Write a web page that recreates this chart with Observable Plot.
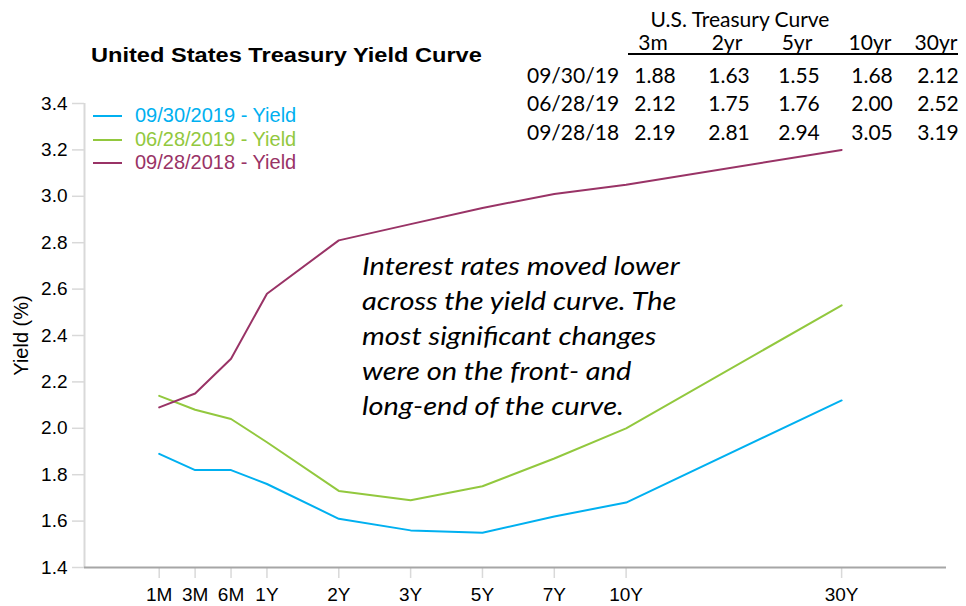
<!DOCTYPE html>
<html>
<head>
<meta charset="utf-8">
<script src="https://cdn.jsdelivr.net/npm/d3@7"></script>
<script src="https://cdn.jsdelivr.net/npm/@observablehq/plot@0.6"></script>
<style>
  html, body { margin: 0; padding: 0; background: #fff; }
  #wrap { position: relative; width: 966px; height: 606px; overflow: hidden; font-family: "Liberation Sans", Arial, sans-serif; }
  #chart { position: absolute; left: 0; top: 0; }
  .abs { position: absolute; white-space: nowrap; }
  #title { left: 91px; top: 41px; font-weight: bold; font-size: 20px; line-height: 28px; transform-origin: left center; transform: scaleX(1.18); color: #000; }
  .tbl { font-family: Lato, "Open Sans", sans-serif; font-size: 21px; color: #000; line-height: 1; }
  .leg { font-size: 20px; line-height: 1; }
  #note { left: 362px; top: 248px; font-family: Lato, "Open Sans", sans-serif; font-style: italic; font-size: 25px; line-height: 35px; color: #000; transform-origin: left top; transform: scaleX(1.16); }
  #hdr { position: absolute; left: 628px; top: 31px; width: 330px; height: 22px; border-bottom: 2px solid #000; }
</style>
</head>
<body>
<div id="wrap">
  <div id="chart"></div>
  <div id="hdr"></div>
</div>
<script>
// ---- data ----
const maturities = ["1M", "3M", "6M", "1Y", "2Y", "3Y", "5Y", "7Y", "10Y", "30Y"];
const maturityIndex = [0, 0.5, 1, 1.5, 2.5, 3.5, 4.5, 5.5, 6.5, 9.5];
const seriesNames = ["09/30/2019 - Yield", "06/28/2019 - Yield", "09/28/2018 - Yield"];
const yield20190930 = [1.89, 1.82, 1.82, 1.76, 1.61, 1.56, 1.55, 1.62, 1.68, 2.12];
const yield20190628 = [2.14, 2.08, 2.04, 1.94, 1.73, 1.69, 1.75, 1.87, 2.00, 2.53];
const yield20180928 = [2.09, 2.15, 2.30, 2.58, 2.81, 2.88, 2.95, 3.01, 3.05, 3.20];
const seriesColors = ["#00B0F0", "#92C83E", "#993366"];
const yTicks = [1.4, 1.6, 1.8, 2.0, 2.2, 2.4, 2.6, 2.8, 3.0, 3.2, 3.4];
const yDomain = [1.4, 3.4];
const xDomain = [-1.04, 10.96];

const tableTitle = "U.S. Treasury Curve";
const tableCols = ["3m", "2yr", "5yr", "10yr", "30yr"];
const tableDates = ["09/30/19", "06/28/19", "09/28/18"];
const tableRow1 = ["1.88", "1.63", "1.55", "1.68", "2.12"];
const tableRow2 = ["2.12", "1.75", "1.76", "2.00", "2.52"];
const tableRow3 = ["2.19", "2.81", "2.94", "3.05", "3.19"];

const titleText = "United States Treasury Yield Curve";
const yLabel = "Yield (%)";
const noteLines = [
  "Interest rates moved lower",
  "across the yield curve. The",
  "most significant changes",
  "were on the front- and",
  "long-end of the curve."
];

// ---- build ----
const allSeries = [yield20190930, yield20190628, yield20180928];
const rows = [];
allSeries.forEach((vals, s) => vals.forEach((v, i) => rows.push({series: seriesNames[s], pos: maturityIndex[i], yield: v})));
const labelOf = new Map(maturityIndex.map((p, i) => [p, maturities[i]]));

const plot = Plot.plot({
  width: 966,
  height: 606,
  marginTop: 103,
  marginBottom: 39,
  marginLeft: 84,
  marginRight: 20,
  style: {fontFamily: '"Liberation Sans", Arial, sans-serif', fontSize: "19px", background: "transparent", overflow: "visible"},
  x: {domain: xDomain, axis: null},
  y: {domain: yDomain, axis: null},
  color: {domain: seriesNames, range: seriesColors},
  marks: [
    Plot.axisY({ticks: yTicks, label: null, tickSize: 12, tickPadding: 5, tickFormat: d3.format(".1f"), stroke: "#d9d9d9", strokeWidth: 1.5, fill: "#000", fontSize: 19}),
    Plot.axisX({ticks: maturityIndex, label: null, tickSize: 11, tickPadding: 8.5, tickFormat: d => labelOf.get(d), stroke: "#d9d9d9", strokeWidth: 1.5, fill: "#000", fontSize: 19}),
    Plot.ruleX([xDomain[0]], {stroke: "#d9d9d9", strokeWidth: 2}),
    Plot.ruleY([yDomain[0]], {stroke: "#a6a6a6", strokeWidth: 2}),
    Plot.text([yLabel], {frameAnchor: "left", textAnchor: "middle", dx: -63, rotate: -90, fontSize: 20, fill: "#000"}),
    Plot.line(rows, {x: "pos", y: "yield", z: "series", stroke: "series", strokeWidth: 2})
  ]
});
document.getElementById("chart").appendChild(plot);

const wrap = document.getElementById("wrap");
function add(cls, text, css) {
  const d = document.createElement("div");
  d.className = "abs " + cls;
  d.textContent = text;
  Object.assign(d.style, css);
  wrap.appendChild(d);
  return d;
}
// title
const t = add("", titleText, {}); t.id = "title";

// legend
seriesNames.forEach((name, i) => {
  const yc = 116 + i * 23.6;
  add("", "", {left: "93px", top: (yc - 1) + "px", width: "29px", height: "2px", background: seriesColors[i]});
  add("leg", name, {left: "135px", top: (yc - 11) + "px", color: seriesColors[i]});
});

// annotation
const note = add("", "", {}); note.id = "note";
note.innerHTML = noteLines.map(s => s.replace(/&/g, "&amp;")).join("<br>");

// table
const colCenters = [653, 727, 797, 870, 936];
const asc = 18.6;
function cell(text, cx, baseline) {
  return add("tbl", text, {left: cx + "px", top: (baseline - asc) + "px", transform: "translateX(-50%)"});
}
cell(tableTitle, 740, 27);
tableCols.forEach((c, i) => cell(c, colCenters[i], 50));
[tableRow1, tableRow2, tableRow3].forEach((row, r) => {
  const base = 82.5 + r * 28.5;
  add("tbl", tableDates[r], {left: "527px", top: (base - asc) + "px"});
  row.forEach((v, i) => cell(v, colCenters[i] + 2, base));
});
</script>
</body>
</html>
